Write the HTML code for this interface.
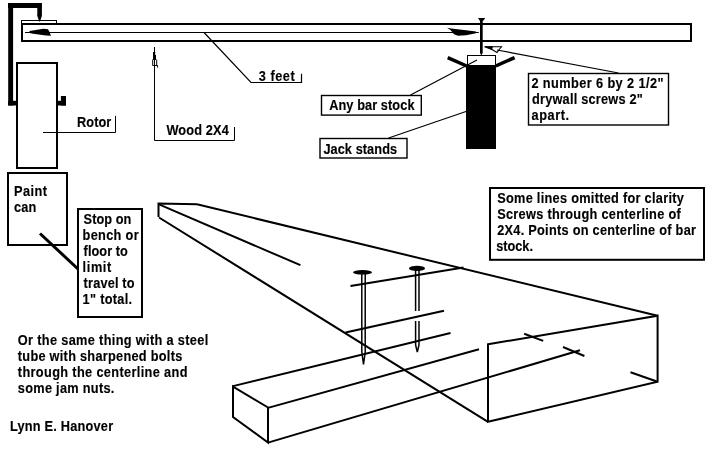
<!DOCTYPE html>
<html><head><meta charset="utf-8">
<style>
html,body{margin:0;padding:0;background:#fff;}
body{width:716px;height:463px;overflow:hidden;position:relative;}
svg{position:absolute;left:0;top:0;will-change:transform;}
text{font-family:"Liberation Sans",sans-serif;font-weight:bold;font-size:14.5px;fill:#000;stroke:#000;stroke-width:0.15px;}
</style></head><body>
<svg width="716" height="463" viewBox="0 0 716 463">
<g fill="none" stroke="#000">
  <!-- top board -->
  <rect x="22" y="24" width="669" height="17" stroke-width="2"/>
  <line x1="25" y1="32.5" x2="478.8" y2="32.5" stroke-width="1.2"/>
  <rect x="21.5" y="20.5" width="35" height="3" stroke-width="1"/>
  <!-- rotor -->
  <rect x="17" y="63" width="40" height="105" stroke-width="2"/>
  <polyline points="43,132.5 115.5,132.5 115.5,115.9" stroke-width="1"/>
  <!-- paint can -->
  <rect x="8" y="173" width="59" height="72" stroke-width="2"/>
  <line x1="40" y1="233.5" x2="78" y2="269" stroke-width="3"/>
  <!-- stop box -->
  <rect x="78" y="209" width="64" height="108" stroke-width="2"/>
  <!-- wood 2x4 leader -->
  <polyline points="154.5,47 154.5,140.5 234.5,140.5 234.5,127" stroke-width="1"/>
  <path d="M152.7,59.5 V65.5 H156.7 V59.5 M155,65.5 H157.6 V67.5" stroke-width="1"/>
  <!-- 3 feet leader -->
  <polyline points="204,32.5 251,82.5 301.5,82.5 301.5,73.8" stroke-width="1.2"/>
  <!-- label boxes -->
  <rect x="321.5" y="95.5" width="99.8" height="19.6" stroke-width="1.4"/>
  <line x1="410.5" y1="95" x2="477" y2="60" stroke-width="1.2"/>
  <rect x="320" y="138.5" width="87" height="19.5" stroke-width="1.4"/>
  <line x1="388.6" y1="138" x2="466.7" y2="111.3" stroke-width="1.2"/>
  <rect x="528.5" y="73.5" width="140" height="51.5" stroke-width="1.4"/>
  <line x1="497" y1="50" x2="618.5" y2="73" stroke-width="1.2"/>
  <polygon points="484.5,46.8 501.5,46.8 500,48.5 497,52.5 492,49.5" stroke-width="1.1"/>
  <rect x="490" y="188" width="214" height="71.8" stroke-width="2"/>
  <!-- jack -->
  <rect x="467.5" y="55.5" width="28" height="10" stroke-width="1"/>
  <line x1="447.7" y1="57.6" x2="466.7" y2="66" stroke-width="3.5"/>
  <line x1="514.6" y1="57.6" x2="495.7" y2="66" stroke-width="3.5"/>
  <!-- 3D drawing -->
  <g stroke-width="2">
    <polyline points="197,204.3 158.5,203.5 158.5,217"/>
    <line x1="197" y1="204.3" x2="657.6" y2="315.8"/>
    <line x1="159" y1="204.3" x2="300.4" y2="265.2"/>
    <line x1="159" y1="217.5" x2="488" y2="421.8"/>
    <polygon points="488,344.3 657.6,315.8 657.6,381.8 488,421.8"/>
    <line x1="630.5" y1="372.3" x2="657.6" y2="381.8"/>
    <polygon points="233,386.6 268,407.5 268,442.6 233,417"/>
    <line x1="233" y1="386.1" x2="450.5" y2="333"/>
    <line x1="268" y1="407.9" x2="479" y2="349.2"/>
    <line x1="268" y1="442.6" x2="580" y2="350.3"/>
    <line x1="350.5" y1="286" x2="463.5" y2="267.5"/>
    <line x1="345.5" y1="332.5" x2="444" y2="310.7"/>
    <line x1="524.2" y1="333.8" x2="543.2" y2="340.9"/>
    <line x1="563" y1="347" x2="584.4" y2="356"/>
  </g>
  <!-- screws in 3D -->
  <g stroke-width="1.5">
    <line x1="361.8" y1="273" x2="361.8" y2="352"/>
    <line x1="365.2" y1="273" x2="365.2" y2="352"/>
    <polyline points="361.8,352 363.5,364.5 365.2,352"/>
    <line x1="415.6" y1="269" x2="415.6" y2="311"/>
    <line x1="419" y1="269" x2="419" y2="311"/>
    <line x1="415.6" y1="321" x2="415.6" y2="345"/>
    <line x1="419" y1="321" x2="419" y2="345"/>
    <polyline points="415.6,345 417.3,352 419,345"/>
  </g>
</g>
<g fill="#000" stroke="none">
  <!-- thick L -->
  <rect x="8.2" y="3" width="4.9" height="102.5"/>
  <rect x="8" y="3" width="33.5" height="5"/>
  <rect x="37.3" y="3" width="4.6" height="13"/>
  <polygon points="37.3,15.5 41.9,15.5 41.9,16 41.1,18.2 40.1,21.5 39.2,21.5 38.1,18.2 37.3,16"/>
  <rect x="8.2" y="100.8" width="8.5" height="4.7"/>
  <rect x="60.9" y="96" width="5.1" height="9.5"/>
  <rect x="57.5" y="100.8" width="8.5" height="4.7"/>
  <!-- left arrow in board -->
  <polygon points="29.5,31 43.5,28.8 48,29.2 49.5,32 51,35.8 46,35.6 33,33.8 29.5,33"/>
  <!-- wood arrow -->
  <rect x="153" y="52" width="2.2" height="8"/><rect x="155" y="55" width="1" height="5"/>
  <!-- top screw -->
  <polygon points="478,18 485.3,18 483,21 480,21"/>
  <rect x="480" y="20" width="2.7" height="33"/><polygon points="480,53 482.7,53 481.6,55 481.1,55"/>
  <polygon points="484.3,46.3 493,46.3 492,50"/>
  <!-- dart in board -->
  <polygon points="447,27.8 451,28.6 466,30.3 476,31.5 476,33.3 466,35.2 458,35.8 454,34.2 450.5,30"/>
  <!-- jack block -->
  <rect x="466" y="65" width="30" height="84"/>
  <!-- screw heads -->
  <ellipse cx="362.5" cy="272.3" rx="9.5" ry="2.3"/>
  <ellipse cx="417" cy="268.4" rx="8" ry="2.6"/>
</g>
<g>
  <text transform="translate(77.00,126.7) scale(0.88,1)" style="letter-spacing:0.085px">Rotor</text>
  <text transform="translate(14.00,195.6) scale(0.88,1)" style="letter-spacing:0.511px">Paint</text>
  <text transform="translate(14.00,211.9) scale(0.88,1)" style="letter-spacing:0.227px">can</text>
  <text transform="translate(83.60,224.4) scale(0.88,1)" style="letter-spacing:0.057px">Stop on</text>
  <text transform="translate(82.60,239.8) scale(0.88,1)" style="letter-spacing:0.357px">bench or</text>
  <text transform="translate(83.60,255.9) scale(0.88,1)" style="letter-spacing:0.049px">floor to</text>
  <text transform="translate(82.60,271.9) scale(0.88,1)" style="letter-spacing:0.682px">limit</text>
  <text transform="translate(83.60,287.7) scale(0.88,1)" style="letter-spacing:0.199px">travel to</text>
  <text transform="translate(82.60,303.7) scale(0.88,1)" style="letter-spacing:0.327px">1&quot; total.</text>
  <text transform="translate(166.40,134.7) scale(0.88,1)" style="letter-spacing:0.162px">Wood 2X4</text>
  <text transform="translate(258.80,81.2) scale(0.88,1)" style="letter-spacing:0.591px">3 feet</text>
  <text transform="translate(329.20,110.0) scale(0.88,1)" style="letter-spacing:0.095px">Any bar stock</text>
  <text transform="translate(323.40,153.9) scale(0.88,1)" style="letter-spacing:0.080px">Jack stands</text>
  <text transform="translate(531.40,87.8) scale(0.88,1)" style="letter-spacing:0.461px">2 number 6 by 2 1/2&quot;</text>
  <text transform="translate(532.00,103.9) scale(0.88,1)" style="letter-spacing:0.249px">drywall screws 2&quot;</text>
  <text transform="translate(531.60,120.2) scale(0.88,1)" style="letter-spacing:0.614px">apart.</text>
  <text transform="translate(497.20,203.2) scale(0.88,1)" style="letter-spacing:0.321px">Some lines omitted for clarity</text>
  <text transform="translate(497.20,219.1) scale(0.88,1)" style="letter-spacing:0.332px">Screws through centerline of</text>
  <text transform="translate(497.20,235.3) scale(0.88,1)" style="letter-spacing:0.304px">2X4. Points on centerline of bar</text>
  <text transform="translate(496.20,251.2) scale(0.88,1)" style="letter-spacing:-0.023px">stock.</text>
  <text transform="translate(17.80,345.2) scale(0.88,1)" style="letter-spacing:0.384px">Or the same thing with a steel</text>
  <text transform="translate(17.80,361.1) scale(0.88,1)" style="letter-spacing:0.312px">tube with sharpened bolts</text>
  <text transform="translate(17.80,376.6) scale(0.88,1)" style="letter-spacing:0.405px">through the centerline and</text>
  <text transform="translate(17.80,392.9) scale(0.88,1)" style="letter-spacing:0.332px">some jam nuts.</text>
  <text transform="translate(10.00,431.3) scale(0.88,1)" style="letter-spacing:0.244px">Lynn E. Hanover</text>
</g>
</svg>
</body></html>
